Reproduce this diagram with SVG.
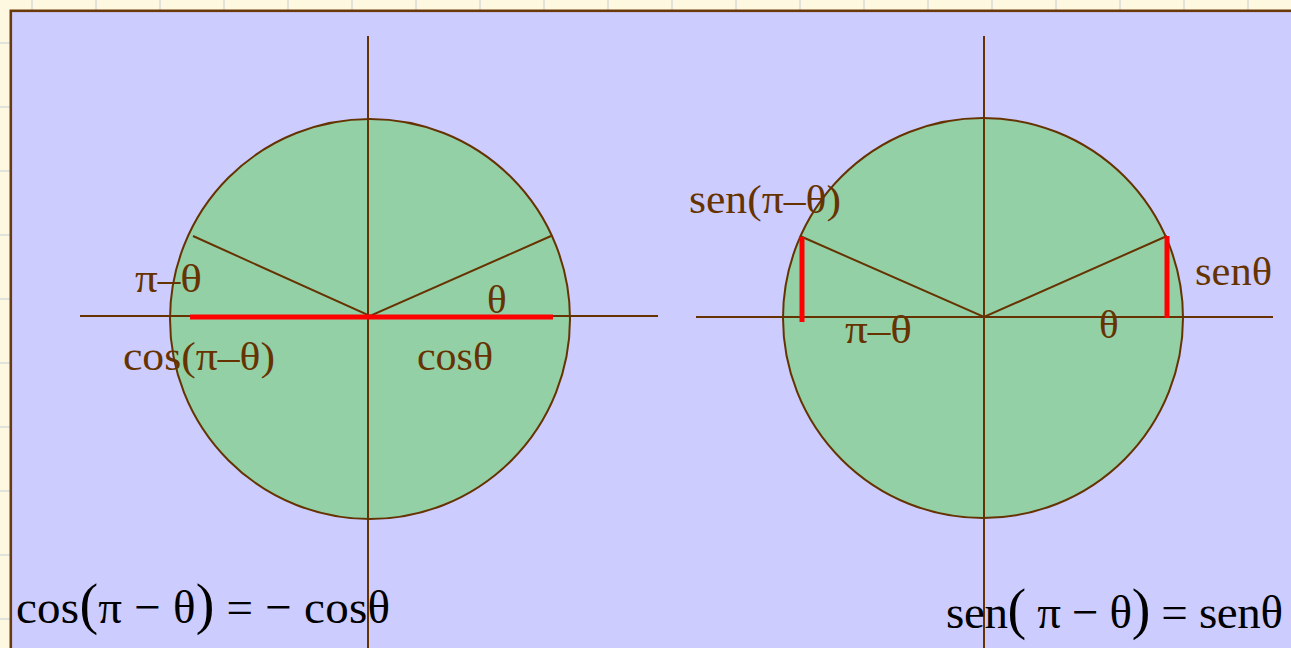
<svg xmlns="http://www.w3.org/2000/svg" width="1291" height="648" viewBox="0 0 1291 648">
<style>
.grid{stroke:#E2E2DC;stroke-width:2}
.ax{stroke:#663300;stroke-width:2;fill:none}
.circ{fill:#93D0A6;stroke:#663300;stroke-width:2}
.red{stroke:#FF0000;stroke-width:5;fill:none}
.lbl{font-family:"Liberation Serif","Times New Roman",serif;font-size:41px;fill:#663300}
.eq{font-family:"Liberation Serif","Times New Roman",serif;font-size:47px;fill:#000}
</style>
<rect x="0" y="0" width="1291" height="648" fill="#FFF8E0"/>
<g id="grid">
<path class="grid" d="M32 0V10M96 0V10M160 0V10M224 0V10M288 0V10M352 0V10M416 0V10M480 0V10M544 0V10M608 0V10M672 0V10M736 0V10M800 0V10M864 0V10M928 0V10M992 0V10M1056 0V10M1120 0V10M1184 0V10M1248 0V10"/>
<path class="grid" d="M0 43H10M0 107H10M0 171H10M0 235H10M0 299H10M0 363H10M0 427H10M0 491H10M0 555H10M0 619H10"/>
</g>
<rect id="panel" x="10.8" y="10.8" width="1290" height="650" fill="#CCCCFF" stroke="#6B3A0A" stroke-width="2.6"/>
<g id="left-circle">
<circle class="circ" cx="370" cy="319" r="200"/>
<line class="ax" x1="368" y1="36" x2="368" y2="648"/>
<line class="ax" x1="80" y1="316" x2="658" y2="316"/>
<polyline class="ax" points="193,236 370,316 551,236"/>
<line class="red" x1="190" y1="317" x2="553" y2="317"/>
<text class="lbl" x="135" y="292" textLength="67" lengthAdjust="spacingAndGlyphs">π–θ</text>
<text class="lbl" x="487" y="313">θ</text>
<text class="lbl" x="123" y="370" textLength="152" lengthAdjust="spacingAndGlyphs">cos(π–θ)</text>
<text class="lbl" x="417" y="370" textLength="76" lengthAdjust="spacingAndGlyphs">cosθ</text>
</g>
<g id="right-circle">
<circle class="circ" cx="983" cy="318" r="200"/>
<line class="ax" x1="984" y1="36" x2="984" y2="648"/>
<line class="ax" x1="696" y1="317" x2="1273" y2="317"/>
<polyline class="ax" points="800,236 984,317 1167,236"/>
<line class="red" x1="802" y1="237" x2="802" y2="322"/>
<line class="red" x1="1167" y1="236" x2="1167" y2="318"/>
<text class="lbl" x="689" y="213" textLength="152" lengthAdjust="spacingAndGlyphs">sen(π–θ)</text>
<text class="lbl" x="845" y="343" textLength="67" lengthAdjust="spacingAndGlyphs">π–θ</text>
<text class="lbl" x="1099" y="338">θ</text>
<text class="lbl" x="1195" y="285" textLength="77" lengthAdjust="spacingAndGlyphs">senθ</text>
</g>
<g id="formulas">
<text class="eq" x="16" y="623" textLength="374" lengthAdjust="spacing">cos<tspan font-size="56">(</tspan>π − θ<tspan font-size="56">)</tspan> = − cosθ</text>
<text class="eq" x="946" y="628" textLength="337" lengthAdjust="spacing">sen<tspan font-size="56">(</tspan> π − θ<tspan font-size="56">)</tspan> = senθ</text>
</g>
</svg>
